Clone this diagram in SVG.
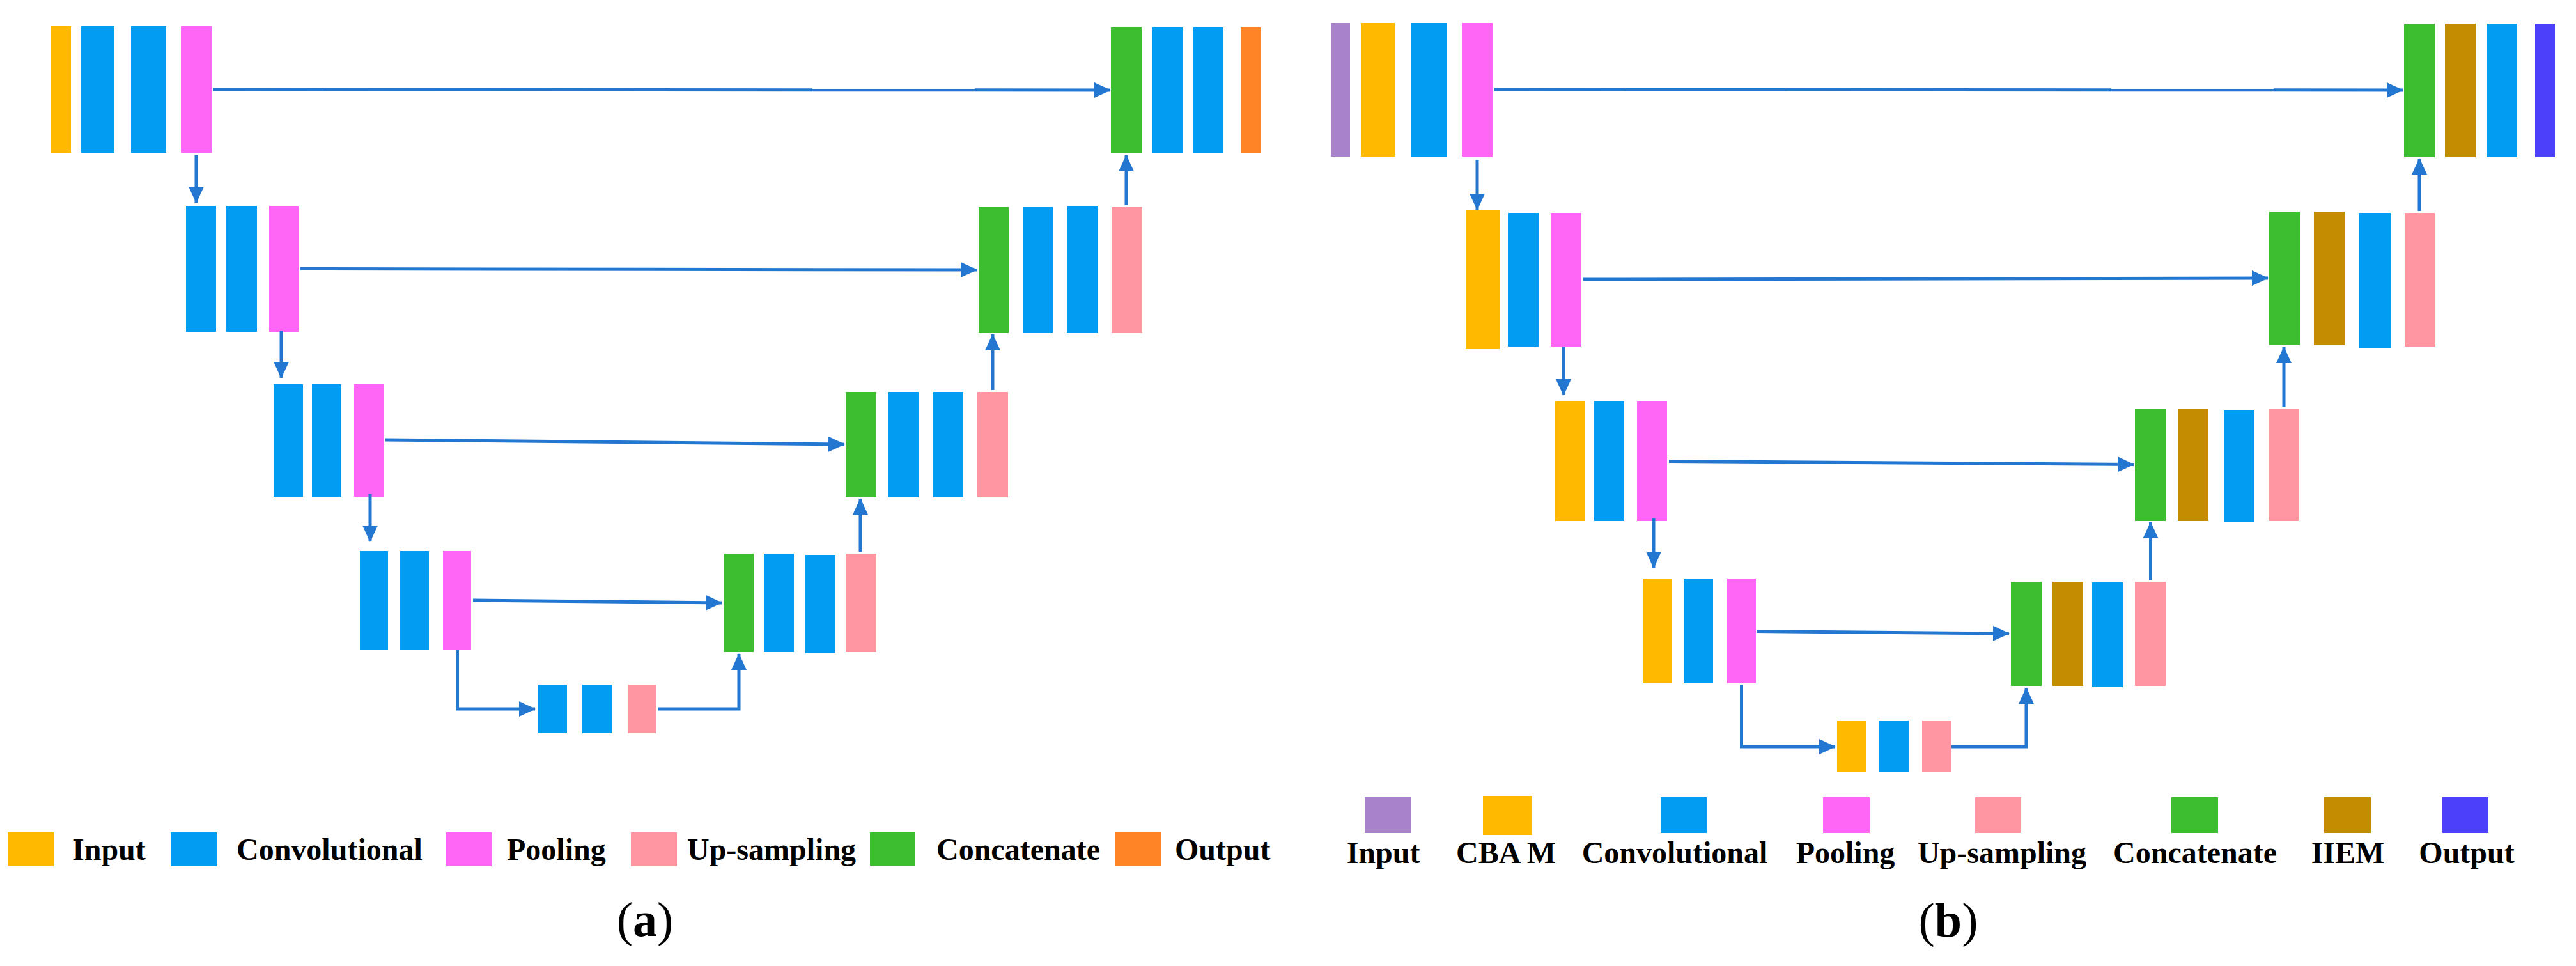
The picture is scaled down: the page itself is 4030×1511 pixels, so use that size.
<svg xmlns="http://www.w3.org/2000/svg" width="4030" height="1511" viewBox="0 0 4030 1511">
<style>
.in{fill:#FFBA00}.cv{fill:#029CF2}.pl{fill:#FF66F5}.up{fill:#FF96A2}.cc{fill:#3DBE31}.ot{fill:#FF8426}
.ip{fill:#A982CC}.ie{fill:#C48C00}.ob{fill:#4D40FA}
.ln{fill:none;stroke:#2477D0;stroke-width:5;marker-end:url(#ah)}
.lg{font-family:"Liberation Serif","Times New Roman",serif;font-weight:bold;font-size:48px;fill:#000}
.cap{font-family:"Liberation Serif","Times New Roman",serif;font-size:76px;fill:#000}
</style>
<defs>
<marker id="ah" markerUnits="userSpaceOnUse" markerWidth="26" markerHeight="24" refX="25" refY="12" orient="auto">
<path d="M0,0 L26,12 L0,24 z" fill="#2477D0"/>
</marker>
</defs>
<rect width="4030" height="1511" fill="#fff"/>

<!-- Panel (a) -->
<g id="a-enc1"><rect class="in" x="80" y="41" width="31" height="198"/><rect class="cv" x="127" y="41" width="52" height="198"/><rect class="cv" x="205" y="41" width="55" height="198"/><rect class="pl" x="283" y="41" width="48" height="198"/></g>
<g id="a-enc2"><rect class="cv" x="291" y="322" width="47" height="197"/><rect class="cv" x="354" y="322" width="48" height="197"/><rect class="pl" x="421" y="322" width="47" height="197"/></g>
<g id="a-enc3"><rect class="cv" x="428" y="601" width="46" height="176"/><rect class="cv" x="488" y="601" width="46" height="176"/><rect class="pl" x="554" y="601" width="46" height="176"/></g>
<g id="a-enc4"><rect class="cv" x="563" y="862" width="44" height="154"/><rect class="cv" x="626" y="862" width="45" height="154"/><rect class="pl" x="693" y="862" width="44" height="154"/></g>
<g id="a-bottom"><rect class="cv" x="841" y="1071" width="46" height="76"/><rect class="cv" x="911" y="1071" width="46" height="76"/><rect class="up" x="982" y="1071" width="44" height="76"/></g>
<g id="a-dec4"><rect class="cc" x="1132" y="866" width="47" height="154"/><rect class="cv" x="1195" y="866" width="47" height="154"/><rect class="cv" x="1260" y="868" width="47" height="154"/><rect class="up" x="1323" y="866" width="48" height="154"/></g>
<g id="a-dec3"><rect class="cc" x="1323" y="613" width="48" height="165"/><rect class="cv" x="1390" y="613" width="47" height="165"/><rect class="cv" x="1460" y="613" width="47" height="165"/><rect class="up" x="1529" y="613" width="48" height="165"/></g>
<g id="a-dec2"><rect class="cc" x="1531" y="324" width="47" height="197"/><rect class="cv" x="1600" y="324" width="47" height="197"/><rect class="cv" x="1669" y="322" width="49" height="199"/><rect class="up" x="1739" y="324" width="48" height="197"/></g>
<g id="a-dec1"><rect class="cc" x="1738" y="43" width="48" height="197"/><rect class="cv" x="1802" y="43" width="48" height="197"/><rect class="cv" x="1867" y="43" width="47" height="197"/><rect class="ot" x="1941" y="43" width="31" height="197"/></g>

<!-- Panel (b) -->
<g id="b-enc1"><rect class="ip" x="2082" y="36" width="30" height="209"/><rect class="in" x="2129" y="36" width="53" height="209"/><rect class="cv" x="2208" y="36" width="56" height="209"/><rect class="pl" x="2287" y="36" width="48" height="209"/></g>
<g id="b-enc2"><rect class="in" x="2293" y="328" width="53" height="218"/><rect class="cv" x="2359" y="333" width="48" height="209"/><rect class="pl" x="2426" y="333" width="48" height="209"/></g>
<g id="b-enc3"><rect class="in" x="2433" y="628" width="47" height="187"/><rect class="cv" x="2494" y="628" width="47" height="187"/><rect class="pl" x="2561" y="628" width="47" height="187"/></g>
<g id="b-enc4"><rect class="in" x="2570" y="905" width="46" height="164"/><rect class="cv" x="2634" y="905" width="46" height="164"/><rect class="pl" x="2702" y="905" width="45" height="164"/></g>
<g id="b-bottom"><rect class="in" x="2874" y="1127" width="46" height="81"/><rect class="cv" x="2939" y="1127" width="47" height="81"/><rect class="up" x="3007" y="1127" width="45" height="81"/></g>
<g id="b-dec4"><rect class="cc" x="3146" y="910" width="48" height="163"/><rect class="ie" x="3211" y="910" width="48" height="163"/><rect class="cv" x="3273" y="911" width="48" height="164"/><rect class="up" x="3340" y="910" width="48" height="163"/></g>
<g id="b-dec3"><rect class="cc" x="3340" y="640" width="48" height="175"/><rect class="ie" x="3407" y="640" width="48" height="175"/><rect class="cv" x="3479" y="641" width="48" height="175"/><rect class="up" x="3549" y="640" width="48" height="175"/></g>
<g id="b-dec2"><rect class="cc" x="3550" y="331" width="48" height="209"/><rect class="ie" x="3620" y="331" width="48" height="209"/><rect class="cv" x="3690" y="333" width="50" height="211"/><rect class="up" x="3762" y="333" width="48" height="209"/></g>
<g id="b-dec1"><rect class="cc" x="3761" y="37" width="48" height="209"/><rect class="ie" x="3825" y="37" width="48" height="209"/><rect class="cv" x="3891" y="37" width="47" height="209"/><rect class="ob" x="3966" y="37" width="31" height="209"/></g>

<g id="connectors">
<!-- (a) skips -->
<path class="ln" d="M333,140 L1737,141"/>
<path class="ln" d="M470,420.5 L1528,422"/>
<path class="ln" d="M603,688 L1321,695"/>
<path class="ln" d="M740,939 L1129,943"/>
<!-- (a) down -->
<path class="ln" d="M307,243 L307,317"/>
<path class="ln" d="M440,517 L440,591"/>
<path class="ln" d="M579,773 L579,847"/>
<path class="ln" d="M715.5,1017 L715.5,1109 L837,1109"/>
<!-- (a) up -->
<path class="ln" d="M1029,1109 L1156,1109 L1156,1023"/>
<path class="ln" d="M1346,863 L1346,780"/>
<path class="ln" d="M1553,610 L1553,523"/>
<path class="ln" d="M1762,321 L1762,243"/>
<!-- (b) skips -->
<path class="ln" d="M2338,140 L3759,141"/>
<path class="ln" d="M2477,437 L3548,435"/>
<path class="ln" d="M2611,721.5 L3338,726.5"/>
<path class="ln" d="M2748,987.5 L3143,991"/>
<!-- (b) down -->
<path class="ln" d="M2311,250 L2311,328"/>
<path class="ln" d="M2446,542 L2446,618"/>
<path class="ln" d="M2587,811 L2587,888"/>
<path class="ln" d="M2724.5,1071 L2724.5,1168 L2871,1168"/>
<!-- (b) up -->
<path class="ln" d="M3053,1168 L3170,1168 L3170,1076"/>
<path class="ln" d="M3364.5,908 L3364.5,817"/>
<path class="ln" d="M3573,637 L3573,543"/>
<path class="ln" d="M3785,330 L3785,248"/>
</g>

<g id="legend-a">
<rect class="in" x="12" y="1302" width="72" height="53"/><text class="lg" x="113" y="1345">Input</text>
<rect class="cv" x="267" y="1302" width="72" height="53"/><text class="lg" x="370" y="1345">Convolutional</text>
<rect class="pl" x="698" y="1302" width="71" height="53"/><text class="lg" x="793" y="1345">Pooling</text>
<rect class="up" x="987" y="1302" width="72" height="53"/><text class="lg" x="1075" y="1345">Up-sampling</text>
<rect class="cc" x="1361" y="1302" width="71" height="53"/><text class="lg" x="1465" y="1345">Concatenate</text>
<rect class="ot" x="1744" y="1302" width="72" height="53"/><text class="lg" x="1838" y="1345">Output</text>
</g>
<text class="cap" x="1009" y="1464" text-anchor="middle">(<tspan font-weight="bold">a</tspan>)</text>

<g id="legend-b">
<rect class="ip" x="2135" y="1247" width="73" height="56"/><text class="lg" x="2164" y="1350" text-anchor="middle">Input</text>
<rect class="in" x="2320" y="1245" width="77" height="61"/><text class="lg" x="2356" y="1350" text-anchor="middle">CBA M</text>
<rect class="cv" x="2598" y="1247" width="72" height="56"/><text class="lg" x="2620" y="1350" text-anchor="middle">Convolutional</text>
<rect class="pl" x="2852" y="1247" width="73" height="56"/><text class="lg" x="2887" y="1350" text-anchor="middle">Pooling</text>
<rect class="up" x="3090" y="1247" width="72" height="56"/><text class="lg" x="3132" y="1350" text-anchor="middle">Up-sampling</text>
<rect class="cc" x="3397" y="1247" width="73" height="56"/><text class="lg" x="3434" y="1350" text-anchor="middle">Concatenate</text>
<rect class="ie" x="3636" y="1247" width="73" height="56"/><text class="lg" x="3673" y="1350" text-anchor="middle">IIEM</text>
<rect class="ob" x="3821" y="1247" width="72" height="56"/><text class="lg" x="3859" y="1350" text-anchor="middle">Output</text>
</g>
<text class="cap" x="3048" y="1465" text-anchor="middle">(<tspan font-weight="bold">b</tspan>)</text>
</svg>
